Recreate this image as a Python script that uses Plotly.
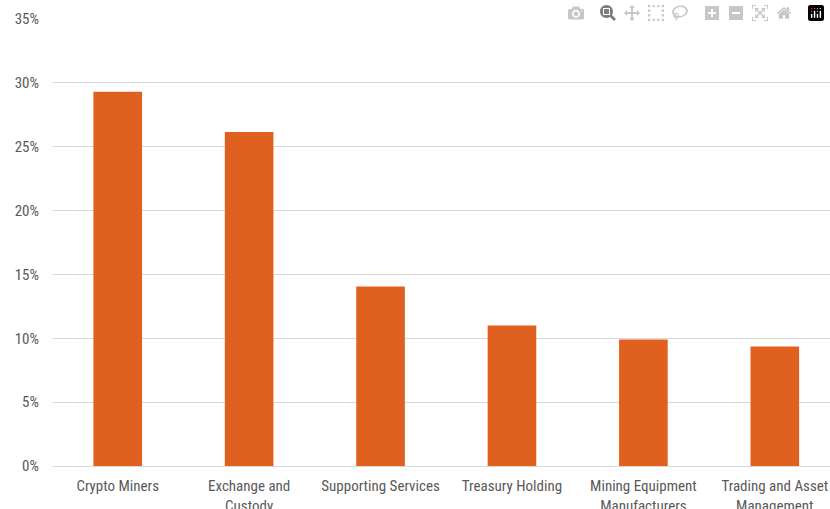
import plotly.graph_objects as go

categories = ["Crypto Miners", "Exchange and<br>Custody", "Supporting Services",
              "Treasury Holding", "Mining Equipment<br>Manufacturers", "Trading and Asset<br>Management"]
values = [29.3, 26.15, 14.05, 11.0, 9.9, 9.35]
y_ticks = [0, 5, 10, 15, 20, 25, 30, 35]
y_tick_labels = [f"{v}%" for v in y_ticks]

FONT = "Liberation Sans Narrow, Roboto Condensed, Arial Narrow, sans-serif"

fig = go.Figure(go.Bar(
    x=list(range(len(categories))), y=values,
    marker=dict(color="#E06020", line=dict(width=0)),
    width=0.37,
))
fig.update_layout(
    width=830, height=509,
    margin=dict(l=52, r=0, t=19, b=43, autoexpand=False),
    plot_bgcolor="white", paper_bgcolor="white",
    showlegend=False,
    font=dict(family=FONT, size=15, color="#595959"),
)
fig.update_xaxes(
    tickmode="array", tickvals=list(range(len(categories))), ticktext=categories,
    range=[-0.5, 5.42], showgrid=False, showline=False, ticks="",
    automargin=False, ticklabelstandoff=9, ticklabeloverflow="allow",
    tickfont=dict(family=FONT, size=15, color="#595959"),
)
fig.update_yaxes(
    range=[0, 35], tickmode="array", tickvals=y_ticks, ticktext=y_tick_labels,
    showgrid=True, gridcolor="#D9D9D9", gridwidth=1,
    zeroline=True, zerolinecolor="#D9D9D9", zerolinewidth=1,
    showline=False, ticks="", ticklabelstandoff=12, automargin=False,
    tickfont=dict(family=FONT, size=15, color="#595959"),
)
fig.write_html(
    "out.html",
    post_script="document.body.style.margin='0';document.body.style.overflow='hidden';",
)
